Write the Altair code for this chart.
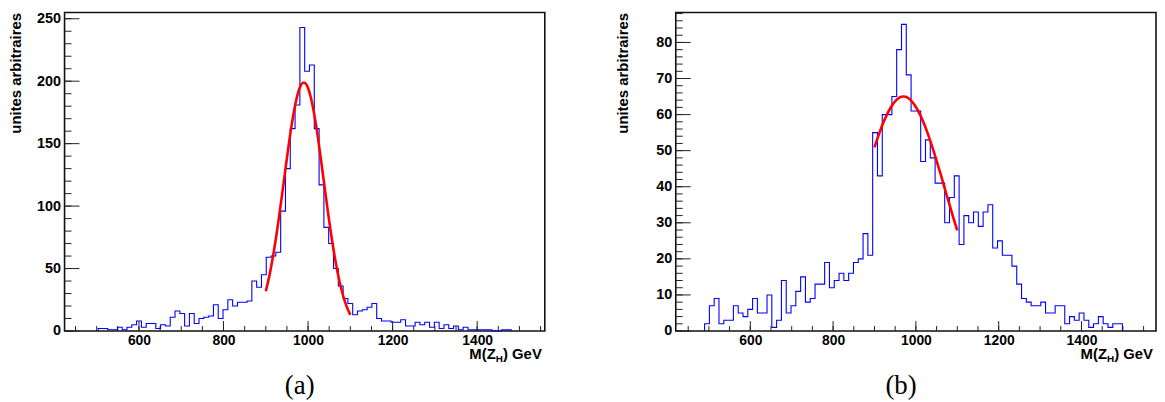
import altair as alt
import pandas as pd

# ---- histogram binning (GeV): 100 bins per panel ----
N_BINS = 100
left_range = [424.0, 1560.0]
right_range = [420.0, 1580.0]

# left panel (a): counts per bin, starting at bin index left_first_bin
left_first_bin = 7
left_counts = [2, 2, 1, 1, 3, 1, 3, 5, 8, 3, 6, 6, 2, 5, 4, 11, 16, 14, 4, 14,
               6, 10, 11, 12, 21, 10, 17, 25, 20, 23, 23, 24, 40, 35, 45, 59, 60, 63, 96, 130,
               162, 181, 243, 208, 213, 162, 117, 83, 70, 50, 36, 26, 22, 13, 16, 17, 19, 22, 10, 8,
               8, 7, 7, 9, 4, 4, 7, 5, 7, 3, 7, 2, 5, 2, 4, 1, 3, 1, 1, 1,
               1, 1, 0, 0, 1, 1]

# right panel (b)
right_first_bin = 6
right_counts = [2, 7, 9, 2, 3, 3, 7, 5, 4, 6, 9, 5, 5, 10, 1, 3, 14, 5, 7, 11,
                15, 8, 9, 13, 13, 19, 12, 14, 16, 14, 16, 19, 20, 27, 21, 55, 43, 60, 60, 65,
                78, 85, 71, 61, 61, 47, 53, 48, 41, 41, 30, 37, 43, 24, 32, 30, 33, 29, 33, 35,
                23, 25, 21, 21, 18, 13, 9, 8, 7, 7, 8, 5, 5, 7, 7, 2, 4, 3, 5, 3,
                1, 2, 4, 2, 1, 2, 2]

# fitted curves (red)
fit_x = [900, 910, 920, 930, 940, 950, 960, 970, 980, 990, 1000,
         1010, 1020, 1030, 1040, 1050, 1060, 1070, 1080, 1090, 1100]
left_fit = [31.8, 46.7, 65.7, 88.1, 113.0, 138.5, 162.4, 181.8, 194.6, 199.0, 194.6,
            181.8, 162.4, 138.5, 113.0, 88.1, 65.7, 46.7, 31.8, 20.7, 12.9]
right_fit = [50.9, 54.3, 57.4, 60.0, 62.1, 63.7, 64.7, 65.0, 64.7, 63.7, 62.1,
             60.0, 57.4, 54.3, 50.9, 47.2, 43.4, 39.4, 35.5, 31.6, 27.9]

# axis ticks / labels
x_labels = [600, 800, 1000, 1200, 1400]
x_minor = [450, 500, 550, 600, 650, 700, 750, 800, 850, 900, 950, 1000, 1050,
           1100, 1150, 1200, 1250, 1300, 1350, 1400, 1450, 1500, 1550]
left_y_labels = [0, 50, 100, 150, 200, 250]
left_y_minor = [v for v in range(0, 251, 10)]
right_y_labels = [0, 10, 20, 30, 40, 50, 60, 70, 80]
right_y_minor = [v for v in range(0, 89, 2)]

W, H = 484, 321
FONT = "Liberation Sans"


def step_table(xrange_, first_bin, counts):
    lo, hi = xrange_
    w = (hi - lo) / N_BINS
    edges = [lo + (first_bin + i) * w for i in range(len(counts) + 1)]
    return pd.DataFrame({"m": [edges[0]] + edges,
                         "n": [0] + list(counts) + [0],
                         "o": list(range(len(counts) + 2))})


def txt(s, x, y, size, align="right", font=FONT, weight="bold", baseline="alphabetic"):
    return alt.Chart(pd.DataFrame({"t": [s]})).mark_text(
        align=align, baseline=baseline, font=font, fontSize=size, fontWeight=weight, color="black"
    ).encode(text="t:N", x=alt.value(x), y=alt.value(y))


def panel(xrange_, first_bin, counts, fit_vals, ymax, ylabels, yminor, title_x, letter, letter_x):
    xs = alt.Scale(domain=list(xrange_), nice=False, zero=False)
    ys = alt.Scale(domain=[0, ymax], nice=False, zero=True)
    xa = alt.Axis(values=x_labels, title="", labelPadding=3, labelFlush=False, format="d",
                  labelFontSize=14)
    ya = alt.Axis(values=ylabels, title="unites arbitraires", labelPadding=4, format="d",
                  titleAngle=270, titleX=title_x, titleY=0, titleAlign="right",
                  titleBaseline="alphabetic")

    def X(f):
        return alt.X(f, scale=xs, axis=xa)

    def Y(f):
        return alt.Y(f, scale=ys, axis=ya)

    hist = alt.Chart(step_table(xrange_, first_bin, counts)).mark_line(
        interpolate="step-after", color="#0000ff", strokeWidth=1.1
    ).encode(x=X("m:Q"), y=Y("n:Q"), order="o:Q")
    fit = alt.Chart(pd.DataFrame({"m": fit_x, "f": fit_vals})).mark_line(
        color="#ff0000", strokeWidth=2.6, interpolate="monotone"
    ).encode(x=X("m:Q"), y=Y("f:Q"))
    ymaj = alt.Chart(pd.DataFrame({"v": ylabels})).mark_rule(color="#222222", strokeWidth=1).encode(
        y=Y("v:Q"), x=alt.value(0), x2=alt.value(15))
    ymin = alt.Chart(pd.DataFrame({"v": yminor})).mark_rule(color="#222222", strokeWidth=1).encode(
        y=Y("v:Q"), x=alt.value(0), x2=alt.value(7))
    xmaj = alt.Chart(pd.DataFrame({"v": x_labels})).mark_rule(color="#222222", strokeWidth=1).encode(
        x=X("v:Q"), y=alt.value(H), y2=alt.value(H - 10))
    xmin = alt.Chart(pd.DataFrame({"v": x_minor})).mark_rule(color="#222222", strokeWidth=1).encode(
        x=X("v:Q"), y=alt.value(H), y2=alt.value(H - 5))
    t1 = txt(") GeV", 481, 349.5, 15)
    t2 = txt("H", 481 - 39.2, 352.5, 10)
    t3 = txt("M(Z", 481 - 39.2 - 7.2, 349.5, 15)
    lab = txt(letter, letter_x, 376, 27, align="center", font="Liberation Serif",
              weight="normal", baseline="middle")
    return alt.layer(hist, fit, ymin, ymaj, xmin, xmaj, t1, t2, t3, lab).properties(width=W, height=H)


left = panel(left_range, left_first_bin, left_counts, left_fit, 255, left_y_labels,
             left_y_minor, -44, "(a)", 237)
right = panel(right_range, right_first_bin, right_counts, right_fit, 88.3, right_y_labels,
              right_y_minor, -49, "(b)", 227)

chart = alt.hconcat(left, right, spacing=132, bounds="flush").properties(
    padding={"left": 0, "top": 0, "right": 0, "bottom": 0}
).configure_view(
    stroke="#111111", strokeWidth=1.6
).configure_axis(
    labelFont=FONT, labelFontWeight="bold", labelFontSize=14.5, labelColor="black",
    titleFont=FONT, titleFontWeight="bold", titleFontSize=15, titleColor="black",
    ticks=False, tickSize=0, domain=False, grid=False
)

chart.save("out.html", embed_options={"renderer": "svg", "actions": False})
